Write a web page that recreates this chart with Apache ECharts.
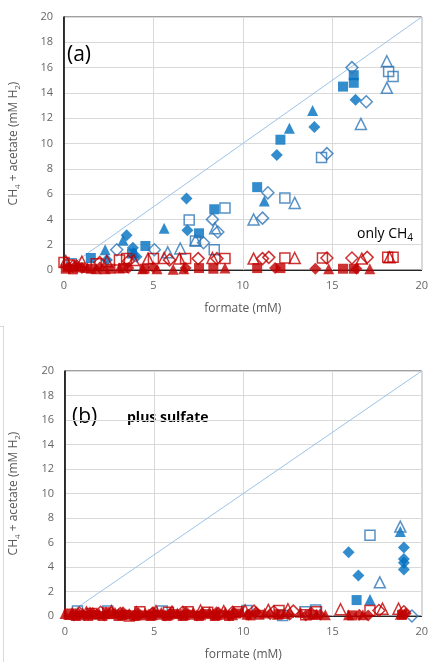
<!DOCTYPE html>
<html>
<head>
<meta charset="utf-8">
<title>formate vs CH4 + acetate</title>
<script src="https://cdn.jsdelivr.net/npm/echarts@6/dist/echarts.min.js"></script>
<style>
  html, body { margin: 0; padding: 0; background: #fff; }
  #chart { width: 431px; height: 662px; }
</style>
</head>
<body>
<div id="chart"></div>
<script>
// axis ticks
var xTicks = [0, 5, 10, 15, 20];
var yTicks = [0, 2, 4, 6, 8, 10, 12, 14, 16, 18, 20];
var diagonal = [[0, 0], [20, 20]];

// panel (a) only CH4 -- blue series [formate, CH4 + acetate]
var aBlueSq = [[1.5, 0.95], [3.8, 1.3], [4.55, 1.9], [7.55, 2.9], [8.4, 4.8], [10.8, 6.55], [12.1, 10.3], [15.6, 14.5], [16.2, 14.8], [16.2, 15.4]];
var aBlueDia = [[2.4, 0.8], [3.5, 2.75], [3.85, 1.75], [4.05, 1.05], [6.85, 5.65], [6.9, 3.15], [11.9, 9.1], [14.0, 11.3], [16.3, 13.45]];
var aBlueTri = [[2.3, 1.6], [3.3, 2.35], [3.9, 1.4], [5.6, 3.3], [11.2, 5.45], [12.6, 11.2], [13.9, 12.6]];
var aBlueSqO = [[0.4, 0.5], [7.0, 3.95], [7.35, 2.3], [8.4, 1.6], [9.0, 4.9], [12.35, 5.7], [14.4, 8.9], [18.15, 15.7], [18.4, 15.3]];
var aBlueDiaO = [[2.95, 1.6], [5.05, 1.6], [7.8, 2.15], [8.3, 4.0], [8.6, 3.0], [11.1, 4.1], [11.4, 6.1], [14.7, 9.2], [16.1, 16.0], [16.9, 13.3]];
var aBlueTriO = [[5.8, 1.4], [6.5, 1.7], [7.35, 2.35], [8.45, 3.3], [10.6, 4.0], [12.9, 5.3], [16.6, 11.55], [18.05, 16.5], [18.05, 14.4]];
// panel (a) red series
var aRedSq = [[0.1, 0.1], [0.5, 0.05], [0.9, 0.2], [1.5, 0.1], [2.6, 0.1], [3.3, 0.15], [4.5, 0.1], [7.55, 0.15], [8.35, 0.1], [10.8, 0.15], [12.1, 0.15], [15.6, 0.1], [16.2, 0.1]];
var aRedDia = [[0.3, 0.2], [0.7, 0.4], [1.0, 0.15], [2.0, 0.2], [3.6, 0.15], [5.0, 0.2], [6.8, 0.15], [11.8, 0.15], [14.05, 0.1], [16.35, 0.1]];
var aRedTri = [[0.2, 0.3], [1.3, 0.2], [1.8, 0.1], [2.3, 0.1], [3.1, 0.15], [4.4, 0.1], [5.2, 0.1], [6.1, 0.05], [6.7, 0.1], [9.0, 0.15], [14.8, 0.1], [17.1, 0.1]];
var aRedSqO = [[0.0, 0.6], [0.3, 0.4], [1.8, 0.5], [3.1, 0.8], [3.5, 0.9], [5.0, 0.9], [6.8, 0.9], [9.0, 0.9], [12.35, 0.95], [14.45, 0.95], [18.1, 1.0], [18.4, 1.0]];
var aRedDiaO = [[0.5, 0.3], [2.0, 0.6], [3.6, 0.7], [5.9, 0.8], [7.5, 0.9], [8.55, 0.9], [11.1, 0.9], [11.45, 1.0], [14.7, 0.95], [16.1, 0.95], [16.95, 1.0]];
var aRedTriO = [[0.1, 0.7], [1.0, 0.65], [2.4, 0.7], [3.9, 0.8], [4.7, 0.9], [5.6, 0.95], [6.45, 0.9], [8.3, 0.95], [10.6, 0.9], [12.9, 0.95], [16.65, 0.9], [18.2, 1.0]];

// panel (b) plus sulfate -- blue series
var bBlueSq = [[16.35, 1.3]];
var bBlueDia = [[15.9, 5.2], [16.45, 3.3], [19.0, 5.6], [19.0, 4.65], [19.0, 4.35], [19.0, 3.8]];
var bBlueTri = [[17.1, 1.35], [18.8, 6.9]];
var bBlueSqO = [[0.7, 0.4], [2.4, 0.4], [5.45, 0.4], [10.2, 0.45], [12.2, 0.05], [13.45, 0.35], [14.05, 0.5], [17.1, 6.6]];
var bBlueDiaO = [[19.45, 0.0]];
var bBlueTriO = [[17.65, 2.75], [18.8, 7.3]];
// panel (b) red series
var bRedSq = [[0.2, 0.1], [0.6, 0.0], [0.9, 0.05], [1.3, 0.0], [1.7, 0.1], [2.1, 0.0], [2.6, 0.15], [3.0, 0.0], [3.4, 0.1], [3.9, 0.0], [4.3, 0.05], [4.8, 0.0], [5.2, 0.1], [5.7, 0.0], [6.1, 0.15], [6.6, 0.0], [7.0, 0.1], [7.5, 0.0], [7.9, 0.15], [8.4, 0.0], [8.7, 0.1], [9.2, 0.0], [9.6, 0.2], [10.4, 0.05], [10.9, 0.1], [12.0, 0.15], [13.9, 0.1], [16.1, 0.05], [18.9, 0.1]];
var bRedDia = [[0.5, 0.05], [0.75, 0.2], [1.3, 0.1], [1.55, 0.25], [2.2, 0.05], [2.45, 0.2], [3.0, 0.15], [3.25, 0.3], [3.9, 0.05], [4.1, 0.25], [4.7, 0.1], [4.95, 0.3], [5.6, 0.05], [5.9, 0.25], [6.5, 0.1], [6.8, 0.3], [7.4, 0.05], [7.7, 0.25], [8.3, 0.1], [8.5, 0.3], [9.2, 0.05], [9.45, 0.25], [10.3, 0.1], [10.7, 0.3], [11.5, 0.15], [12.6, 0.1], [13.5, 0.05], [14.3, 0.1], [16.5, 0.1], [17.0, 0.05], [19.1, 0.2]];
var bRedTri = [[0.0, 0.2], [0.4, 0.3], [1.0, 0.25], [1.4, 0.35], [1.9, 0.2], [2.3, 0.35], [2.8, 0.3], [3.2, 0.1], [3.6, 0.2], [4.0, 0.1], [4.5, 0.25], [4.9, 0.1], [5.4, 0.3], [5.8, 0.1], [6.3, 0.25], [6.7, 0.1], [7.2, 0.3], [7.6, 0.1], [8.1, 0.35], [8.5, 0.1], [9.0, 0.3], [9.4, 0.1], [9.9, 0.35], [10.2, 0.15], [11.2, 0.25], [11.9, 0.15], [12.3, 0.2], [13.2, 0.3], [14.1, 0.15], [14.6, 0.1], [15.9, 0.1], [16.7, 0.1], [18.8, 0.15]];
var bRedSqO = [[0.3, 0.15], [1.5, 0.2], [2.4, 0.25], [3.6, 0.0], [4.2, 0.35], [5.8, 0.3], [6.9, 0.35], [8.0, 0.3], [9.7, 0.35], [12.0, 0.45], [13.5, 0.1], [14.1, 0.35], [17.1, 0.45]];
var bRedDiaO = [[0.8, 0.25], [2.0, 0.3], [3.1, 0.2], [4.9, 0.2], [6.6, 0.3], [8.6, 0.2], [9.4, 0.3], [10.6, 0.4], [11.7, 0.35], [12.8, 0.4], [13.8, 0.2], [17.6, 0.45], [19.0, 0.35]];
var bRedTriO = [[1.2, 0.3], [2.6, 0.4], [4.0, 0.3], [5.1, 0.4], [6.0, 0.35], [7.6, 0.45], [8.9, 0.4], [10.1, 0.45], [11.4, 0.5], [12.5, 0.55], [15.45, 0.55], [17.8, 0.6], [18.7, 0.6]];

var BLUE = '#0070C0';
var BLUE_O = '#2E75B6';
var RED = '#C00000';
var FONT = 'Open Sans';

var chart = echarts.init(document.getElementById('chart'), null, { renderer: 'canvas' });

function makeX(idx) {
  return {
    gridIndex: idx,
    type: 'value',
    min: xTicks[0],
    max: xTicks[xTicks.length - 1],
    interval: 5,
    name: 'formate (mM)',
    nameLocation: 'middle',
    nameGap: 33,
    nameTextStyle: { color: '#595959', fontSize: 12, fontFamily: FONT },
    axisLine: { show: true, onZero: false, lineStyle: { color: '#262626', width: 1 } },
    axisTick: { show: false },
    axisLabel: { color: '#666', fontSize: 11, fontFamily: FONT, margin: 10 },
    splitLine: { show: true, lineStyle: { color: '#d9d9d9', width: 1 } }
  };
}

function makeY(idx, gap) {
  return {
    gridIndex: idx,
    type: 'value',
    min: yTicks[0],
    max: yTicks[yTicks.length - 1],
    interval: 2,
    name: '{a|CH}{s|4}{a| + acetate (mM H}{s|2}{a|)}',
    nameLocation: 'middle',
    nameGap: gap,
    nameRotate: 90,
    nameTextStyle: {
      color: '#595959',
      fontFamily: FONT,
      rich: {
        a: { fontSize: 12, color: '#595959', fontFamily: FONT, lineHeight: 16 },
        s: { fontSize: 8, color: '#595959', fontFamily: FONT, lineHeight: 8, verticalAlign: 'bottom' }
      }
    },
    axisLine: { show: true, onZero: false, lineStyle: { color: '#000', width: 1.5 } },
    axisTick: { show: false },
    axisLabel: { color: '#666', fontSize: 11, fontFamily: FONT, margin: 11 },
    splitLine: { show: true, lineStyle: { color: '#d9d9d9', width: 1 } }
  };
}

function pts(name, idx, data, symbol, color, open) {
  var size = symbol === 'rect' ? 10 : (symbol === 'diamond' ? 12 : 11);
  return {
    name: name,
    type: 'scatter',
    xAxisIndex: idx,
    yAxisIndex: idx,
    data: data,
    symbol: symbol,
    symbolSize: size,
    clip: false,
    silent: true,
    itemStyle: open
      ? { color: 'rgba(0,0,0,0)', borderColor: color, borderWidth: 1.5 }
      : { color: color, borderWidth: 0 }
  };
}

function diag(idx) {
  return {
    type: 'line',
    xAxisIndex: idx,
    yAxisIndex: idx,
    data: diagonal,
    symbol: 'none',
    silent: true,
    lineStyle: { color: '#9DC3E6', width: 1 },
    z: 1
  };
}

function panelSeries(idx, s) {
  return [
    diag(idx),
    pts('blue sq', idx, s[0], 'rect', BLUE, false),
    pts('blue dia', idx, s[1], 'diamond', BLUE, false),
    pts('blue tri', idx, s[2], 'triangle', BLUE, false),
    pts('blue sq o', idx, s[3], 'rect', BLUE_O, true),
    pts('blue dia o', idx, s[4], 'diamond', BLUE_O, true),
    pts('blue tri o', idx, s[5], 'triangle', BLUE_O, true),
    pts('red sq', idx, s[6], 'rect', RED, false),
    pts('red dia', idx, s[7], 'diamond', RED, false),
    pts('red tri', idx, s[8], 'triangle', RED, false),
    pts('red sq o', idx, s[9], 'rect', RED, true),
    pts('red dia o', idx, s[10], 'diamond', RED, true),
    pts('red tri o', idx, s[11], 'triangle', RED, true)
  ];
}

var series = []
  .concat(panelSeries(0, [aBlueSq, aBlueDia, aBlueTri, aBlueSqO, aBlueDiaO, aBlueTriO,
                          aRedSq, aRedDia, aRedTri, aRedSqO, aRedDiaO, aRedTriO]))
  .concat(panelSeries(1, [bBlueSq, bBlueDia, bBlueTri, bBlueSqO, bBlueDiaO, bBlueTriO,
                          bRedSq, bRedDia, bRedTri, bRedSqO, bRedDiaO, bRedTriO]));

var option = {
  backgroundColor: '#fff',
  animation: false,
  grid: [
    { left: 60, top: 17, width: 363, height: 253, show: true, borderColor: '#404040', borderWidth: 1, backgroundColor: 'transparent' },
    { left: 65, top: 371, width: 360, height: 251, show: true, borderColor: '#404040', borderWidth: 1, backgroundColor: 'transparent' }
  ],
  xAxis: [makeX(0), makeX(1)],
  yAxis: [makeY(0, 42), makeY(1, 43)],
  graphic: [
    { type: 'text', left: 67, top: 45, style: { text: '(a)', fontSize: 21, fontFamily: FONT, fill: '#000' } },
    {
      type: 'text', left: 357, top: 227,
      style: {
        text: '{a|only CH}{s|4}',
        rich: {
          a: { fontSize: 14, fontFamily: FONT, fill: '#000', lineHeight: 18 },
          s: { fontSize: 10, fontFamily: FONT, fill: '#000', lineHeight: 10, verticalAlign: 'bottom' }
        }
      }
    },
    { type: 'text', left: 72, top: 407, style: { text: '(b)', fontSize: 21, fontFamily: FONT, fill: '#000' } },
    { type: 'text', left: 127, top: 411, style: { text: 'plus sulfate', fontSize: 14, fontWeight: 'bold', fontFamily: FONT, fill: '#000' } },
    { type: 'line', shape: { x1: 3.5, y1: 326, x2: 3.5, y2: 662 }, style: { stroke: '#d9d9d9', lineWidth: 1 } },
    { type: 'line', shape: { x1: 0, y1: 326.5, x2: 3.5, y2: 326.5 }, style: { stroke: '#d9d9d9', lineWidth: 1 } }
  ],
  series: series
};

chart.setOption(option);
</script>
</body>
</html>
